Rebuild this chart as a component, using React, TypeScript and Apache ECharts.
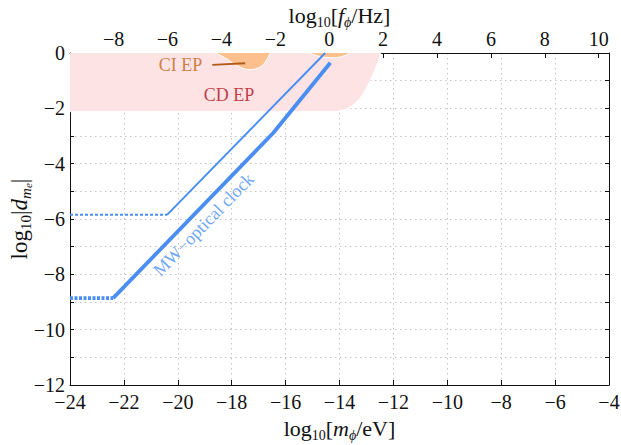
import React, { useEffect, useRef } from "react";
import * as echarts from "echarts";

// ---- data ----
const LOG10_H_EV_S = 14.383; // log10 f[Hz] = log10 m[eV] + 14.383
const xRange = [-24, -4];
const yRange = [-12, 0];
const topTickValues = [-8, -6, -4, -2, 0, 2, 4, 6, 8, 10];

// CD EP boundary (filled up to log10|d| = 0)
const cdEpBoundary = [
  [-24, -2.12], [-14.3, -2.12], [-13.75, -2.02], [-13.35, -1.75],
  [-13.05, -1.35], [-12.8, -0.85], [-12.6, -0.4], [-12.47, 0],
];
// CI EP blobs (hanging from top)
const ciEpBlobA = [
  [-18.6, 0], [-18.2, -0.2], [-17.85, -0.43], [-17.35, -0.6],
  [-16.9, -0.48], [-16.68, -0.2], [-16.57, 0],
];
const ciEpBlobB = [
  [-15.1, 0], [-14.7, -0.13], [-14.15, -0.17], [-13.6, 0],
];
// MW–optical clock (thin)
const thinDotted = [[-24, -5.85], [-20.4, -5.85]];
const thinSolid = [[-20.4, -5.85], [-14.53, 0]];
// MW–optical clock (thick)
const thickDotted = [[-24, -8.86], [-22.4, -8.86]];
const thickSolid = [[-22.4, -8.86], [-16.46, -2.89], [-14.34, -0.35]];

// annotations
const ciLabel = [[-19.9, -0.43, "CI EP"]];
const cdLabel = [[-18.1, -1.5, "CD EP"]];
const mwLabel = [[-19.05, -6.2, "MW\u2212optical clock"]];
const ciArrow = [[-18.72, -0.43], [-17.5, -0.37]];

const FONT = "Liberation Serif, Times New Roman, serif";
const BLUE = "#4a8ef2";
const minus = (v: number) => String(v).replace("-", "\u2212");

const makeRich = (S: number, SUB: number, SS: number) => ({
  n: { fontFamily: FONT, fontSize: S, lineHeight: 28, color: "#111", verticalAlign: "middle" },
  i: { fontFamily: FONT, fontSize: S, lineHeight: 28, color: "#111", fontStyle: "italic", verticalAlign: "middle" },
  s: { fontFamily: FONT, fontSize: SUB, lineHeight: 15, color: "#111", verticalAlign: "bottom" },
  si: { fontFamily: FONT, fontSize: SUB, lineHeight: 15, color: "#111", fontStyle: "italic", verticalAlign: "bottom" },
  ss: { fontFamily: FONT, fontSize: SS, lineHeight: 9, color: "#111", fontStyle: "italic", verticalAlign: "bottom" },
});
const richX = makeRich(22, 14, 10);
const richY = makeRich(23, 15, 11);

export default function App() {
  const ref = useRef<HTMLDivElement>(null);
  useEffect(() => {
    if (!ref.current) return;
    const chart = echarts.init(ref.current, null, { renderer: "svg" });
    const axisLine = { show: true, onZero: false, lineStyle: { color: "#111", width: 1 } };
    const grid = { show: true, lineStyle: { color: "#c4c4c4", type: [1.5, 3.5], width: 1 } };
    const tickLabel = { fontFamily: FONT, fontSize: 20, color: "#111" };
    chart.setOption({
      animation: false,
      backgroundColor: "#fff",
      textStyle: { fontFamily: FONT },
      grid: { left: 70, right: 12, top: 53, bottom: 60, containLabel: false, outerBoundsMode: "none" },
      xAxis: [
        {
          type: "value", position: "bottom", min: xRange[0], max: xRange[1], interval: 2,
          axisLine, splitLine: grid,
          axisTick: { inside: true, length: 5, lineStyle: { color: "#111" } },
          axisLabel: { ...tickLabel, margin: 7, formatter: (v: number) => minus(v) },
          name: "{n|log}{s|10}{n|[}{i|m}{si|\u03d5}{n|/eV]}",
          nameLocation: "middle", nameGap: 29, nameMoveOverlap: false,
          nameTextStyle: { rich: richX },
        },
        {
          type: "value", position: "top",
          min: xRange[0] + LOG10_H_EV_S, max: xRange[1] + LOG10_H_EV_S,
          axisLine, splitLine: { show: false },
          axisTick: { inside: true, length: 5, lineStyle: { color: "#111" }, customValues: topTickValues },
          axisLabel: { ...tickLabel, margin: 4, customValues: topTickValues, formatter: (v: number) => minus(v) },
          name: "{n|log}{s|10}{n|[}{i|f}{si|\u03d5}{n|/Hz]}",
          nameLocation: "middle", nameGap: 24, nameMoveOverlap: false,
          nameTextStyle: { rich: richX },
        },
      ],
      yAxis: [
        {
          type: "value", position: "left", min: yRange[0], max: yRange[1], interval: 1,
          axisLine, splitLine: grid,
          axisTick: { inside: true, length: 4, lineStyle: { color: "#111" } },
          axisLabel: { ...tickLabel, margin: 5, formatter: (v: number) => (v % 2 === 0 ? minus(v) : "") },
          name: "{n|log}{s|10}{n||}{i|d}{si|m}{ss|e}{n||}",
          nameLocation: "middle", nameGap: 37, nameRotate: 90, nameMoveOverlap: false,
          nameTextStyle: { rich: richY },
        },
        {
          type: "value", position: "right", min: yRange[0], max: yRange[1], interval: 1,
          axisLine, splitLine: { show: false },
          axisTick: { inside: true, length: 4, lineStyle: { color: "#111" } },
          axisLabel: { show: false },
        },
      ],
      series: [
        {
          type: "line", data: cdEpBoundary, smooth: 0.4, showSymbol: false, z: 1,
          lineStyle: { width: 1, color: "#fff" }, areaStyle: { color: "#fde3e3", opacity: 1, origin: "end" },
        },
        {
          type: "line", data: ciEpBlobA, smooth: 0.4, showSymbol: false, z: 2,
          lineStyle: { width: 1, color: "#fff" }, areaStyle: { color: "#fcc08e", opacity: 1, origin: "end" },
        },
        {
          type: "line", data: ciEpBlobB, smooth: 0.4, showSymbol: false, z: 2,
          lineStyle: { width: 1, color: "#fff" }, areaStyle: { color: "#fcc08e", opacity: 1, origin: "end" },
        },
        {
          type: "line", data: thinDotted, showSymbol: false, z: 3,
          lineStyle: { width: 2, color: BLUE, type: [3, 2] },
        },
        {
          type: "line", data: thinSolid, showSymbol: false, z: 3,
          lineStyle: { width: 2, color: BLUE },
        },
        {
          type: "line", data: thickDotted, showSymbol: false, z: 3,
          lineStyle: { width: 3.8, color: BLUE, type: [3, 1.5] },
        },
        {
          type: "line", data: thickSolid, showSymbol: false, z: 3,
          lineStyle: { width: 3.8, color: BLUE, join: "round" },
        },
        {
          type: "scatter", data: ciLabel, symbolSize: 0, z: 4,
          label: {
            show: true, position: "inside", formatter: (p: any) => p.data[2],
            fontFamily: FONT, fontSize: 18, color: "#c0661c",
          },
          markLine: {
            silent: true, symbol: ["none", "arrow"], symbolSize: [0, 13],
            z: 10,
            lineStyle: { color: "#b05c18", width: 1.8, type: "solid", opacity: 1 },
            label: { show: false },
            data: [[{ coord: ciArrow[0] }, { coord: ciArrow[1] }]],
          },
        },
        {
          type: "scatter", data: cdLabel, symbolSize: 0, z: 4,
          label: {
            show: true, position: "inside", formatter: (p: any) => p.data[2],
            fontFamily: FONT, fontSize: 18, color: "#b00d1c",
          },
        },
        {
          type: "scatter", data: mwLabel, symbolSize: 0, z: 4,
          label: {
            show: true, position: "inside", rotate: 45.7, formatter: (p: any) => p.data[2],
            fontFamily: FONT, fontSize: 18, color: BLUE,
          },
        },
      ],
    });
    return () => chart.dispose();
  }, []);
  return <div ref={ref} style={{ position: "fixed", left: 0, top: 0, width: 621, height: 445 }} />;
}
